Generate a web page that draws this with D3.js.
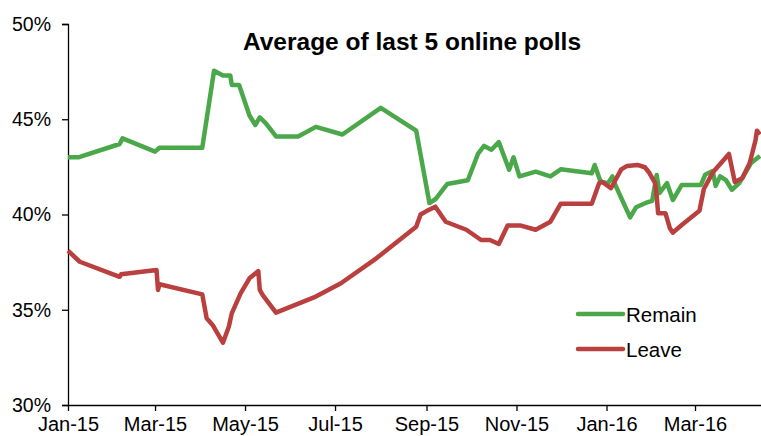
<!DOCTYPE html>
<html>
<head>
<meta charset="utf-8">
<script src="https://cdn.jsdelivr.net/npm/d3@7"></script>
<style>
  body { margin: 0; background: white; }
  text { font-family: "Liberation Sans", Arial, sans-serif; }
</style>
</head>
<body>
<svg width="761" height="436"></svg>
<script>
// Remain: average of last 5 online polls
const remainDates = ['2015-01-01','2015-01-08','2015-02-05','2015-02-07','2015-03-01','2015-03-04','2015-04-02','2015-04-10','2015-04-16','2015-04-21','2015-04-22','2015-04-27','2015-05-04','2015-05-08','2015-05-11','2015-05-15','2015-05-22','2015-06-06','2015-06-18','2015-07-06','2015-08-01','2015-08-25','2015-09-03','2015-09-07','2015-09-15','2015-09-29','2015-10-06','2015-10-10','2015-10-15','2015-10-20','2015-10-27','2015-10-30','2015-11-03','2015-11-14','2015-11-24','2015-12-01','2015-12-22','2015-12-24','2015-12-28','2016-01-02','2016-01-05','2016-01-07','2016-01-17','2016-01-21','2016-01-28','2016-02-01','2016-02-04','2016-02-06','2016-02-11','2016-02-15','2016-02-21','2016-03-05','2016-03-08','2016-03-13','2016-03-15','2016-03-18','2016-03-22','2016-03-26','2016-03-31','2016-04-08','2016-04-14'];
const remainValues = [43.0,43.0,43.7,44.0,43.3,43.5,43.5,47.55,47.3,47.3,46.8,46.8,45.2,44.7,45.1,44.8,44.1,44.1,44.6,44.2,45.6,44.4,40.6,40.8,41.6,41.8,43.2,43.6,43.4,43.8,42.35,43.0,42.0,42.25,42.0,42.37,42.16,42.6,41.72,41.64,42.0,41.55,39.85,40.38,40.62,40.72,42.07,41.13,41.65,40.76,41.55,41.55,42.1,42.28,41.5,42.0,41.8,41.3,41.65,42.7,43.07];

// Leave: average of last 5 online polls
const leaveDates = ['2015-01-01','2015-01-09','2015-02-05','2015-02-06','2015-03-02','2015-03-03','2015-03-04','2015-04-02','2015-04-05','2015-04-09','2015-04-16','2015-04-20','2015-04-22','2015-04-28','2015-05-04','2015-05-10','2015-05-11','2015-05-13','2015-05-22','2015-06-18','2015-07-05','2015-07-29','2015-08-25','2015-08-28','2015-09-01','2015-09-07','2015-09-14','2015-09-28','2015-10-08','2015-10-14','2015-10-20','2015-10-26','2015-11-04','2015-11-14','2015-11-19','2015-11-24','2015-12-01','2015-12-22','2015-12-27','2015-12-29','2016-01-04','2016-01-11','2016-01-15','2016-01-22','2016-01-27','2016-01-30','2016-02-03','2016-02-04','2016-02-05','2016-02-10','2016-02-13','2016-02-15','2016-02-21','2016-03-04','2016-03-07','2016-03-13','2016-03-24','2016-03-28','2016-04-02','2016-04-07','2016-04-09','2016-04-11','2016-04-12','2016-04-14'];
const leaveValues = [38.1,37.52,36.73,36.86,37.09,36.04,36.34,35.81,34.55,34.2,33.27,34.11,34.81,35.86,36.65,37.03,36.04,35.77,34.85,35.69,36.39,37.7,39.36,40.0,40.18,40.41,39.62,39.2,38.66,38.66,38.45,39.42,39.42,39.2,39.41,39.62,40.57,40.57,41.64,41.72,41.38,42.37,42.55,42.6,42.48,42.19,41.64,41.0,40.06,40.06,39.27,39.05,39.45,40.2,41.34,42.2,43.18,41.7,41.9,42.69,43.28,43.9,44.4,44.2];

const yTicks = [30, 35, 40, 45, 50];
const xTickDates = ['2015-01-01','2015-03-01','2015-05-01','2015-07-01','2015-09-01','2015-11-01','2016-01-01','2016-03-01'];
const seriesNames = ['Remain', 'Leave'];
const seriesColors = ['#4aa84a', '#b9403e'];

const parse = d3.utcParse('%Y-%m-%d');
const svg = d3.select('svg');

const x = d3.scaleUtc()
  .domain([parse('2015-01-01'), parse('2016-04-15')])
  .range([68, 761.4]);
const y = d3.scaleLinear().domain([30, 50]).range([405, 24]);

const remain = remainDates.map((d, i) => ({date: parse(d), value: remainValues[i]}));
const leave = leaveDates.map((d, i) => ({date: parse(d), value: leaveValues[i]}));
const series = [remain, leave];

// y axis
const yAxis = svg.append('g')
  .attr('transform', 'translate(68,0)')
  .call(d3.axisLeft(y).tickValues(yTicks).tickSize(6).tickFormat(d => d + '%'));
yAxis.select('.domain').attr('stroke', '#000').attr('stroke-width', 1.3);
yAxis.selectAll('.tick line').attr('stroke', '#000').attr('stroke-width', 1.3);
yAxis.selectAll('.tick text')
  .attr('x', -17)
  .attr('font-size', 19.5)
  .attr('fill', '#000')
  .style('font-family', '"Liberation Sans", Arial, sans-serif');

// x axis
const xAxis = svg.append('g')
  .attr('transform', 'translate(0,405)')
  .call(d3.axisBottom(x).tickValues(xTickDates.map(parse)).tickSize(6)
    .tickSizeOuter(0).tickFormat(d3.utcFormat('%b-%y')));
xAxis.select('.domain').attr('stroke', '#000').attr('stroke-width', 1.3);
xAxis.selectAll('.tick line').attr('stroke', '#000').attr('stroke-width', 1.3);
xAxis.selectAll('.tick text')
  .attr('y', 12)
  .attr('font-size', 20)
  .attr('fill', '#000')
  .style('font-family', '"Liberation Sans", Arial, sans-serif');

// lines
const line = d3.line().x(d => x(d.date)).y(d => y(d.value));
svg.selectAll('.series')
  .data(series)
  .join('path')
    .attr('class', 'series')
    .attr('d', line)
    .attr('fill', 'none')
    .attr('stroke', (d, i) => seriesColors[i])
    .attr('stroke-width', 4.5)
    .attr('stroke-linejoin', 'round');

// title
svg.append('text')
  .attr('x', 412)
  .attr('y', 50)
  .attr('text-anchor', 'middle')
  .attr('font-size', 24.5)
  .attr('font-weight', 'bold')
  .text('Average of last 5 online polls');

// legend
const legend = svg.append('g').attr('transform', 'translate(578,314)');
seriesNames.forEach((name, i) => {
  const row = legend.append('g').attr('transform', `translate(0,${i * 35})`);
  row.append('line')
    .attr('x1', 0).attr('x2', 45)
    .attr('stroke', seriesColors[i])
    .attr('stroke-width', 4.5)
    .attr('stroke-linecap', 'round');
  row.append('text')
    .attr('x', 48)
    .attr('y', 7.5)
    .attr('font-size', 20.5)
    .text(name);
});
</script>
</body>
</html>
